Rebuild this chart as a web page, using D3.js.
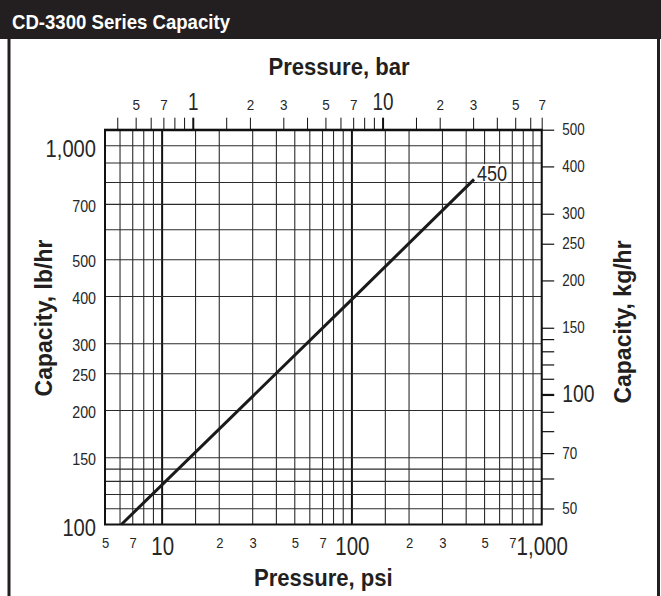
<!DOCTYPE html>
<meta charset="utf-8">
<style>
body { margin: 0; background: #fff; }
svg { display: block; }
text { font-family: 'Liberation Sans', Arial, sans-serif; fill: #262626; }
.title { font-weight: bold; font-size: 23px; fill: #231f20; }
.grid line { stroke: #2b2b2b; stroke-width: 1.1; }
.grid line.major { stroke: #111; stroke-width: 2; }
.axis path, .axis line { stroke: #111; }
</style>
<body>
<svg id="chart" width="661" height="596"></svg>
<script src="https://cdn.jsdelivr.net/npm/d3@7"></script>
<script>
var PSI_PER_BAR = 14.5038;
var LB_PER_KG = 2.20462;

// grid lines and tick labels (psi / lb per hr on the main axes)
var psiGrid = [5, 6, 7, 8, 9, 10, 15, 20, 30, 40, 50, 60, 70, 80, 90, 100, 150, 200, 300, 400, 500, 600, 700, 800, 900, 1000];
var psiLabels = [5, 7, 10, 20, 30, 50, 70, 100, 200, 300, 500, 700, 1000];
var barTicks = [0.4, 0.5, 0.6, 0.7, 0.8, 0.9, 1, 1.5, 2, 3, 4, 5, 6, 7, 8, 9, 10, 15, 20, 30, 40, 50, 60, 70];
var barLabels = [0.5, 0.7, 1, 2, 3, 5, 7, 10, 20, 30, 50, 70];
var lbGrid = [100, 110, 120, 130, 140, 150, 200, 250, 300, 400, 500, 600, 700, 800, 900, 1000];
var lbLabels = [100, 150, 200, 250, 300, 400, 500, 700, 1000];
var kgTicks = [50, 60, 70, 80, 90, 100, 110, 120, 130, 140, 150, 200, 250, 300, 400, 500];
var kgLabels = [50, 70, 100, 150, 200, 250, 300, 400, 500];

// capacity curve (model 450)
var curvePsi = [6.1, 100, 440];
var curveLb = [100, 393, 815];
var curveName = "450";

var svg = d3.select("#chart");
var W = 661, H = 596;
var plot = {left: 105, right: 541.7, top: 129.7, bottom: 524.5};

var x = d3.scaleLog().domain([5, 1000]).range([plot.left, plot.right]);
var y = d3.scaleLog().domain([100, 500 * LB_PER_KG]).range([plot.bottom, plot.top]);
var xBar = d3.scaleLog().domain(x.domain().map(function(p) { return p / PSI_PER_BAR; })).range(x.range()).clamp(true);
var yKg = d3.scaleLog().domain(y.domain().map(function(l) { return l / LB_PER_KG; })).range(y.range());

function isDecade(v) {
  var l = Math.log10(v);
  return Math.abs(l - Math.round(l)) < 1e-9;
}
// log paper style: decades written out, the rest only the leading digit
function logLabel(v) {
  if (isDecade(v)) return d3.format(",")(v);
  return String(Math.round(v / Math.pow(10, Math.floor(Math.log10(v) + 1e-9))));
}
// no condensed font installed, so squeeze the glyphs
function narrow(sel, k, origin) {
  sel.style("transform-box", "fill-box")
    .style("transform-origin", origin || "center")
    .style("transform", typeof k === "function" ? function(d) { return "scaleX(" + k(d) + ")"; } : "scaleX(" + k + ")");
}
function squeeze(d) { return isDecade(d) ? 0.82 : 0.9; }

// header + frame
svg.append("rect").attr("width", W).attr("height", H).attr("fill", "#fff");
svg.append("rect").attr("x", 0).attr("y", 0).attr("width", W).attr("height", 39).attr("fill", "#231f20");
svg.append("text").attr("x", 12).attr("y", 29.5)
  .attr("font-size", 20).attr("font-weight", "bold")
  .style("fill", "#fff")
  .text("CD-3300 Series Capacity")
  .call(narrow, 0.93, "left");
svg.append("line").attr("x1", 9).attr("x2", 9).attr("y1", 38).attr("y2", H).attr("stroke", "#231f20").attr("stroke-width", 3);
svg.append("line").attr("x1", 658.5).attr("x2", 658.5).attr("y1", 38).attr("y2", H).attr("stroke", "#231f20").attr("stroke-width", 3);

// grid
var grid = svg.append("g").attr("class", "grid");
grid.selectAll("line.v")
  .data(psiGrid)
  .enter().append("line")
  .attr("class", function(d) { return isDecade(d) && d > 5 && d < 1000 ? "v major" : "v"; })
  .attr("x1", function(d) { return x(d); })
  .attr("x2", function(d) { return x(d); })
  .attr("y1", plot.top)
  .attr("y2", plot.bottom);
grid.selectAll("line.h")
  .data(lbGrid)
  .enter().append("line")
  .attr("class", "h")
  .attr("x1", plot.left)
  .attr("x2", plot.right)
  .attr("y1", function(d) { return y(d); })
  .attr("y2", function(d) { return y(d); });

svg.append("rect")
  .attr("x", plot.left).attr("y", plot.top)
  .attr("width", plot.right - plot.left).attr("height", plot.bottom - plot.top)
  .attr("fill", "none").attr("stroke", "#111").attr("stroke-width", 2);

// top axis, bar
var topAxis = svg.append("g").attr("class", "axis")
  .attr("transform", "translate(0," + plot.top + ")")
  .call(d3.axisTop(xBar).tickValues(barTicks).tickSize(12).tickSizeOuter(0).tickPadding(8)
    .tickFormat(function(d) { return barLabels.indexOf(d) >= 0 ? logLabel(d) : ""; }));
topAxis.select(".domain").attr("stroke-width", 2);
topAxis.selectAll("text").attr("font-family", null)
  .style("font-size", function(d) { return isDecade(d) ? "23px" : "15px"; })
  .call(narrow, squeeze);
topAxis.selectAll(".tick line").attr("stroke-width", function(d) { return isDecade(d) ? 2 : 1; });

// bottom axis, psi
var bottomAxis = svg.append("g").attr("class", "axis")
  .attr("transform", "translate(0," + plot.bottom + ")")
  .call(d3.axisBottom(x).tickValues(psiLabels).tickSize(0).tickPadding(12.8).tickFormat(logLabel));
bottomAxis.select(".domain").remove();
bottomAxis.selectAll("text").attr("font-family", null)
  .style("font-size", function(d) { return isDecade(d) ? "25px" : "14.5px"; })
  .call(narrow, squeeze);

// left axis, lb/hr
var leftAxis = svg.append("g").attr("class", "axis")
  .attr("transform", "translate(" + plot.left + ",0)")
  .call(d3.axisLeft(y).tickValues(lbLabels).tickSize(0).tickPadding(9).tickFormat(d3.format(",")));
leftAxis.select(".domain").remove();
leftAxis.selectAll("text").attr("font-family", null)
  .attr("dy", function(d) { return isDecade(d) ? "0.45em" : "0.4em"; })
  .style("font-size", function(d) { return isDecade(d) ? "24px" : "17px"; })
  .call(narrow, 0.84, "right");

// right axis, kg/hr
var rightAxis = svg.append("g").attr("class", "axis")
  .attr("transform", "translate(" + plot.right + ",0)")
  .call(d3.axisRight(yKg).tickValues(kgTicks).tickSize(12.5).tickSizeOuter(0).tickPadding(8)
    .tickFormat(function(d) { return kgLabels.indexOf(d) >= 0 ? String(d) : ""; }));
rightAxis.select(".domain").remove();
rightAxis.selectAll("text").attr("font-family", null)
  .style("font-size", function(d) { return d === 100 ? "23px" : "16px"; })
  .call(narrow, 0.84, "left");
rightAxis.selectAll(".tick line").attr("stroke-width", function(d) { return d === 100 ? 2.2 : 1.2; });

// capacity line
var pts = d3.zip(curvePsi, curveLb);
svg.append("path")
  .datum(pts)
  .attr("fill", "none")
  .attr("stroke", "#1a1a1a")
  .attr("stroke-width", 3)
  .attr("d", d3.line().x(function(d) { return x(d[0]); }).y(function(d) { return y(d[1]); }));

var last = pts[pts.length - 1];
var lbl = svg.append("g");
var lblText = lbl.append("text")
  .attr("x", x(last[0]) + 3)
  .attr("y", y(last[1]) + 1.5)
  .attr("font-size", 22)
  .text(curveName)
  .call(narrow, 0.82, "left");
var bb = lblText.node().getBBox();
lbl.insert("rect", "text")
  .attr("x", bb.x).attr("y", bb.y + 3)
  .attr("width", bb.width * 0.82 + 1).attr("height", bb.height - 6)
  .attr("fill", "#fff");

// axis titles
svg.append("text").attr("class", "title")
  .attr("x", 339).attr("y", 75).attr("text-anchor", "middle")
  .text("Pressure, bar")
  .call(narrow, 0.96);
svg.append("text").attr("class", "title")
  .attr("x", (plot.left + plot.right) / 2).attr("y", 586).attr("text-anchor", "middle")
  .text("Pressure, psi")
  .call(narrow, 0.96);
svg.append("text").attr("class", "title")
  .attr("transform", "translate(52,318) rotate(-90)")
  .attr("text-anchor", "middle")
  .text("Capacity, lb/hr");
svg.append("text").attr("class", "title")
  .attr("transform", "translate(631,322) rotate(-90)")
  .attr("text-anchor", "middle")
  .text("Capacity, kg/hr");
</script>
</body>
